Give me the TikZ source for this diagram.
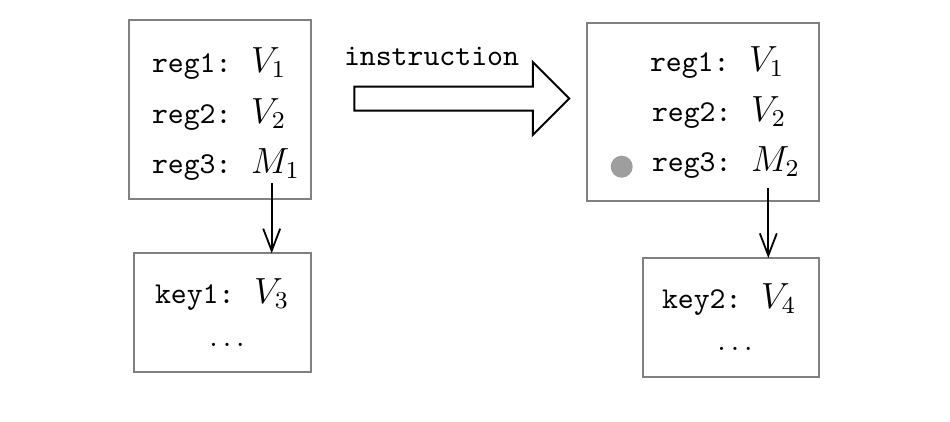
\documentclass[tikz,border=0pt]{standalone}
\usetikzlibrary{arrows.meta,shapes.arrows}
\newcommand{\mv}[1]{\hspace{1.2pt}{\large$#1$}}
\begin{document}
\begin{tikzpicture}[x=0.33pt,y=-0.33pt,
  box/.style={draw=black!50,line width=0.66pt,inner sep=0pt,outer sep=0pt},
  txt/.style={anchor=base west,inner sep=0pt,outer sep=0pt},
  dotsnode/.style={anchor=base,inner sep=0pt,outer sep=0pt},
  link/.style={line width=0.6pt,-{Straight Barb[length=7.3pt,width=5.6pt]}},
  bigarrow/.style={single arrow,draw=black,line width=0.66pt,inner sep=0pt,
    inner ysep=3.63pt,minimum height=70.95pt,single arrow head extend=8.09pt,
    single arrow tip angle=90,anchor=tail}]
\path[use as bounding box] (0,0) rectangle (950,422);
% boxes
\node[box,minimum width=60.06pt,minimum height=59.07pt] (lt) at (220,109.5) {};
\node[box,minimum width=58.2pt,minimum height=39.27pt] (lb) at (222.5,312.8) {};
\node[box,minimum width=76.56pt,minimum height=58.74pt] (rt) at (703,112) {};
\node[box,minimum width=58.08pt,minimum height=39.27pt] (rb) at (731,317.5) {};
% left texts
\node[txt] (l1) at (152,72) {\texttt{reg1:~}\mv{V_1}};
\node[txt] (l2) at (152,123) {\texttt{reg2:~}\mv{V_2}};
\node[txt] (l3) at (152,173) {\texttt{reg3:~}\mv{M_1}};
\node[txt] (k1) at (155,303) {\texttt{key1:~}\mv{V_3}};
\node[dotsnode] (d1) at (227,346.7) {$\dots$};
% right texts
\node[txt] (r1) at (650,71) {\texttt{reg1:~}\mv{V_1}};
\node[txt] (r2) at (652,121) {\texttt{reg2:~}\mv{V_2}};
\node[txt] (r3) at (652,171.5) {\texttt{reg3:~}\mv{M_2}};
\node[circle,fill=black!38,inner sep=0pt,minimum size=7.26pt] (dot) at (621.7,166.7) {};
\node[txt] (k2) at (662,308.3) {\texttt{key2:~}\mv{V_4}};
\node[dotsnode] (d2) at (735,350) {$\dots$};
% instruction arrow
\node[bigarrow] (ins) at (353.3,98.5) {};
\node[txt] (lab) at (344,65) {\texttt{instruction}};
% links
\coordinate (s1) at (271.7,183);
\coordinate (s2) at (768.3,188);
\draw[link] (s1) -- (s1 |- lb.north);
\draw[link] (s2) -- (s2 |- rb.north);
\end{tikzpicture}
\end{document}
